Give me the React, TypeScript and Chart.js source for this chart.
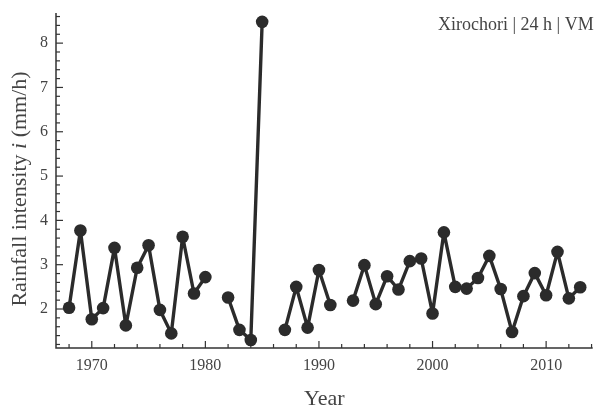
import { useEffect, useRef } from 'react';
import { Chart, registerables } from 'chart.js';

Chart.register(...registerables);

const FONT = '"Liberation Serif", "DejaVu Serif", serif';

const years = [
  1968, 1969, 1970, 1971, 1972, 1973, 1974, 1975, 1976, 1977, 1978, 1979, 1980,
  1981, 1982, 1983, 1984, 1985, 1986, 1987, 1988, 1989, 1990, 1991, 1992, 1993,
  1994, 1995, 1996, 1997, 1998, 1999, 2000, 2001, 2002, 2003, 2004, 2005, 2006,
  2007, 2008, 2009, 2010, 2011, 2012, 2013,
];

const intensity: (number | null)[] = [
  2.03, 3.77, 1.77, 2.02, 3.38, 1.63, 2.93, 3.44, 1.98, 1.45, 3.63, 2.35, 2.72,
  null, 2.26, 1.53, 1.3, 8.48, null, 1.53, 2.5, 1.58, 2.88, 2.09, null, 2.19,
  2.99, 2.11, 2.74, 2.44, 3.08, 3.14, 1.9, 3.73, 2.5, 2.46, 2.7, 3.2, 2.45,
  1.48, 2.29, 2.81, 2.31, 3.29, 2.24, 2.49,
];

const xTickLabels = [1970, 1980, 1990, 2000, 2010];
const yTickLabels = [2, 3, 4, 5, 6, 7, 8];

const annotation = 'Xirochori | 24 h | VM';
const xTitle = 'Year';
const yTitleParts = ['Rainfall intensity ', 'i', ' (mm/h)'];

const AXIS_COLOR = '#333333';
const TEXT_COLOR = '#444444';
const MARK_COLOR = '#2b2b2b';

const decoPlugin = {
  id: 'deco',
  beforeDatasetsDraw(chart: any) {
    const { ctx, chartArea, scales } = chart;
    const x = scales.x;
    const y = scales.y;
    ctx.save();
    ctx.strokeStyle = AXIS_COLOR;
    ctx.lineWidth = 1.5;
    ctx.beginPath();
    ctx.moveTo(chartArea.left, chartArea.top);
    ctx.lineTo(chartArea.left, chartArea.bottom);
    ctx.lineTo(chartArea.right, chartArea.bottom);
    ctx.stroke();
    ctx.lineWidth = 1.2;
    for (let yr = Math.ceil(x.min / 2) * 2; yr <= x.max; yr += 2) {
      const px = x.getPixelForValue(yr);
      const len = yr % 10 === 0 ? 7 : 4;
      ctx.beginPath();
      ctx.moveTo(px, chartArea.bottom);
      ctx.lineTo(px, chartArea.bottom - len);
      ctx.stroke();
    }
    for (let t = Math.ceil(y.min * 5); t <= Math.floor(y.max * 5); t++) {
      const v = t / 5;
      const py = y.getPixelForValue(v);
      const len = t % 5 === 0 ? 7 : 4;
      ctx.beginPath();
      ctx.moveTo(chartArea.left, py);
      ctx.lineTo(chartArea.left + len, py);
      ctx.stroke();
    }
    ctx.restore();
  },
  afterDraw(chart: any) {
    const { ctx, chartArea } = chart;
    ctx.save();
    ctx.fillStyle = TEXT_COLOR;
    ctx.font = `18px ${FONT}`;
    ctx.textAlign = 'right';
    ctx.textBaseline = 'alphabetic';
    ctx.fillText(annotation, chartArea.right + 1, 30);
    ctx.font = `22px ${FONT}`;
    ctx.textAlign = 'center';
    ctx.fillText(xTitle, (chartArea.left + chartArea.right) / 2, 405);
    const fonts = [`22px ${FONT}`, `italic 22px ${FONT}`, `22px ${FONT}`];
    const widths = yTitleParts.map((p, i) => {
      ctx.font = fonts[i];
      return ctx.measureText(p).width;
    });
    const total = widths.reduce((a, b) => a + b, 0);
    const cy = 189;
    ctx.translate(26, cy);
    ctx.rotate(-Math.PI / 2);
    ctx.textAlign = 'left';
    let cx = -total / 2;
    yTitleParts.forEach((p, i) => {
      ctx.font = fonts[i];
      ctx.fillText(p, cx, 0);
      cx += widths[i];
    });
    ctx.restore();
  },
};

export default function App() {
  const ref = useRef<HTMLCanvasElement | null>(null);

  useEffect(() => {
    if (!ref.current) return;
    const chart = new Chart(ref.current, {
      type: 'line',
      data: {
        datasets: [
          {
            data: years.map((yr, i) => ({ x: yr, y: intensity[i] as any })),
            borderColor: MARK_COLOR,
            backgroundColor: MARK_COLOR,
            borderWidth: 3.4,
            borderJoinStyle: 'round',
            borderCapStyle: 'round',
            pointRadius: 6.3,
            pointBorderWidth: 0,
            pointBackgroundColor: MARK_COLOR,
            spanGaps: false,
            tension: 0,
          },
        ],
      },
      options: {
        responsive: false,
        animation: false,
        layout: { padding: { top: 13, right: 3, left: 0, bottom: 0 } },
        plugins: {
          legend: { display: false },
          tooltip: { enabled: false },
        },
        scales: {
          x: {
            type: 'linear',
            min: 1966.85,
            max: 2014.1,
            grid: { display: false, drawTicks: false },
            border: { display: false },
            afterFit: (s: any) => {
              s.height = 62;
              s.paddingLeft = 0;
              s.paddingRight = 0;
              s.paddingTop = 0;
              s.paddingBottom = 0;
            },
            afterBuildTicks: (s: any) => {
              s.ticks = xTickLabels.map((v) => ({ value: v }));
            },
            ticks: {
              padding: 8,
              color: TEXT_COLOR,
              font: { family: FONT, size: 16 },
              maxRotation: 0,
              autoSkip: false,
              callback: (v: any) => String(v),
            },
          },
          y: {
            type: 'linear',
            min: 1.12,
            max: 8.68,
            grid: { display: false, drawTicks: false },
            border: { display: false },
            afterFit: (s: any) => {
              s.width = 56;
              s.paddingLeft = 0;
              s.paddingRight = 0;
              s.paddingTop = 0;
              s.paddingBottom = 0;
            },
            afterBuildTicks: (s: any) => {
              s.ticks = yTickLabels.map((v) => ({ value: v }));
            },
            ticks: {
              padding: 8,
              color: TEXT_COLOR,
              font: { family: FONT, size: 16 },
              autoSkip: false,
              callback: (v: any) => String(v),
            },
          },
        },
      },
      plugins: [decoPlugin],
    });
    return () => chart.destroy();
  }, []);

  return (
    <div style={{ position: 'fixed', left: 0, top: 0, width: 599, height: 410, background: '#fff' }}>
      <canvas ref={ref} width={599} height={410} style={{ display: 'block' }} />
    </div>
  );
}
